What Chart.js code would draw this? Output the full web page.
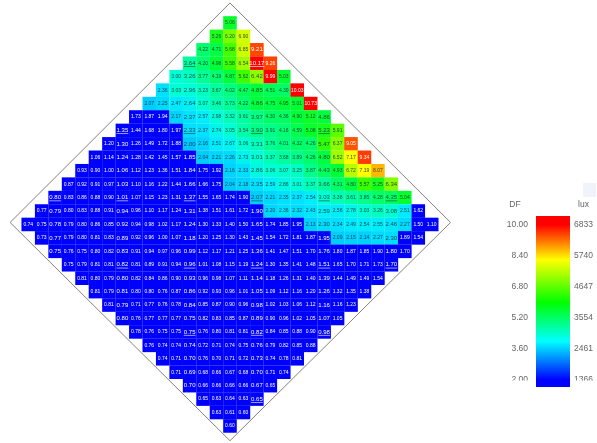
<!DOCTYPE html>
<html>
<head>
<meta charset="utf-8">
<style>
  html, body { margin: 0; background: #fff; overflow: hidden; }
  #wrap { position: relative; width: 597px; height: 443px; }
  canvas { position: absolute; filter: blur(0.6px); }
  #mapChart { left: 0; top: 0; }
  #barChart { left: 490px; top: 180px; }
</style>
</head>
<body>
<div id="wrap">
  <canvas id="mapChart" width="597" height="443"></canvas>
  <canvas id="barChart" width="107" height="263"></canvas>
</div>
<script src="https://cdn.jsdelivr.net/npm/chart.js@4/dist/chart.umd.min.js"></script>
<script>
// daylight factor per grid cell, one array per row of the diamond
const row01 = [5.06];
const row02 = [5.26, 6.20, 6.90];
const row03 = [4.22, 4.71, 5.68, 6.85, 9.21];
const row04 = [3.64, 4.20, 4.98, 5.58, 6.54, 10.17, 9.26];
const row05 = [3.00, 3.26, 3.77, 4.19, 4.87, 5.62, 6.42, 9.99, 5.03];
const row06 = [2.36, 3.03, 2.96, 3.23, 3.67, 4.02, 4.47, 4.85, 4.51, 4.30, 10.03];
const row07 = [2.07, 2.25, 2.47, 2.64, 3.07, 3.46, 3.73, 4.22, 4.86, 4.75, 4.95, 5.01, 10.73];
const row08 = [1.73, 1.87, 1.94, 2.17, 2.37, 2.57, 2.98, 3.32, 3.61, 3.97, 4.30, 4.36, 4.90, 5.12, 4.86];
const row09 = [1.35, 1.44, 1.68, 1.80, 1.97, 2.33, 2.37, 2.74, 3.05, 3.54, 3.90, 3.91, 4.16, 4.59, 5.08, 5.23, 5.91];
const row10 = [1.20, 1.30, 1.26, 1.49, 1.72, 1.88, 2.00, 2.16, 2.51, 2.67, 3.06, 3.31, 3.76, 4.01, 4.32, 4.26, 5.47, 6.37, 9.05];
const row11 = [1.06, 1.14, 1.24, 1.28, 1.42, 1.45, 1.57, 1.85, 2.04, 2.21, 2.26, 2.73, 3.01, 3.37, 3.68, 3.89, 4.26, 4.80, 6.52, 7.17, 9.34];
const row12 = [0.93, 0.90, 1.00, 1.06, 1.12, 1.23, 1.36, 1.51, 1.84, 1.75, 1.92, 2.16, 2.33, 2.86, 3.06, 3.07, 3.25, 3.87, 4.43, 4.93, 6.72, 7.19, 8.07];
const row13 = [0.87, 0.92, 0.91, 0.97, 1.03, 1.10, 1.16, 1.22, 1.44, 1.66, 1.66, 1.75, 2.04, 2.18, 2.35, 2.59, 2.86, 3.01, 3.37, 3.66, 4.31, 4.80, 5.57, 5.25, 6.34];
const row14 = [0.80, 0.83, 0.86, 0.88, 0.90, 1.01, 1.07, 1.15, 1.23, 1.31, 1.37, 1.55, 1.65, 1.74, 1.90, 2.07, 2.21, 2.35, 2.37, 2.54, 3.03, 3.38, 3.61, 3.85, 4.28, 4.35, 5.04];
const row15 = [0.77, 0.79, 0.80, 0.83, 0.88, 0.91, 0.94, 0.96, 1.10, 1.17, 1.24, 1.31, 1.38, 1.51, 1.61, 1.72, 1.90, 2.20, 2.36, 2.32, 2.43, 2.59, 2.56, 2.78, 3.03, 3.26, 3.08, 2.51, 1.62];
const row16 = [0.74, 0.75, 0.78, 0.79, 0.80, 0.86, 0.85, 0.92, 0.94, 0.98, 1.02, 1.17, 1.24, 1.30, 1.33, 1.40, 1.50, 1.65, 1.74, 1.85, 1.95, 2.13, 2.30, 2.34, 2.49, 2.54, 2.55, 2.46, 2.27, 1.50, 1.10];
const row17 = [0.73, 0.77, 0.79, 0.80, 0.81, 0.83, 0.89, 0.92, 0.96, 1.00, 1.07, 1.18, 1.20, 1.25, 1.30, 1.43, 1.45, 1.54, 1.72, 1.81, 1.87, 1.95, 2.09, 2.15, 2.14, 2.27, 2.30, 1.89, 1.54];
const row18 = [0.75, 0.76, 0.75, 0.80, 0.82, 0.83, 0.91, 0.94, 0.97, 0.96, 0.99, 1.12, 1.17, 1.21, 1.25, 1.36, 1.41, 1.47, 1.51, 1.70, 1.76, 1.80, 1.87, 1.85, 1.90, 1.80, 1.70];
const row19 = [0.75, 0.79, 0.81, 0.81, 0.82, 0.81, 0.89, 0.91, 0.94, 0.96, 1.01, 1.08, 1.15, 1.19, 1.24, 1.30, 1.35, 1.41, 1.48, 1.51, 1.65, 1.70, 1.71, 1.73, 1.70];
const row20 = [0.81, 0.80, 0.79, 0.80, 0.82, 0.84, 0.86, 0.90, 0.93, 0.96, 0.98, 1.07, 1.11, 1.14, 1.18, 1.26, 1.31, 1.40, 1.39, 1.44, 1.49, 1.49, 1.54];
const row21 = [0.81, 0.79, 0.81, 0.80, 0.80, 0.76, 0.87, 0.86, 0.92, 0.93, 0.96, 1.01, 1.05, 1.09, 1.12, 1.16, 1.20, 1.26, 1.32, 1.35, 1.38];
const row22 = [0.81, 0.79, 0.71, 0.77, 0.76, 0.78, 0.84, 0.85, 0.87, 0.90, 0.96, 0.98, 1.02, 1.03, 1.06, 1.12, 1.16, 1.16, 1.23];
const row23 = [0.80, 0.76, 0.77, 0.77, 0.77, 0.75, 0.82, 0.83, 0.85, 0.87, 0.89, 0.90, 0.96, 1.02, 1.05, 1.07, 1.05];
const row24 = [0.78, 0.76, 0.75, 0.75, 0.75, 0.76, 0.80, 0.81, 0.81, 0.82, 0.84, 0.85, 0.88, 0.90, 0.98];
const row25 = [0.76, 0.74, 0.74, 0.74, 0.72, 0.71, 0.74, 0.75, 0.76, 0.79, 0.82, 0.85, 0.88];
const row26 = [0.74, 0.71, 0.70, 0.76, 0.70, 0.71, 0.72, 0.73, 0.74, 0.78, 0.81];
const row27 = [0.71, 0.69, 0.68, 0.66, 0.67, 0.68, 0.70, 0.71, 0.74];
const row28 = [0.70, 0.66, 0.66, 0.66, 0.66, 0.67, 0.65];
const row29 = [0.65, 0.63, 0.64, 0.63, 0.65];
const row30 = [0.63, 0.61, 0.60];
const row31 = [0.60];

const dfRows = [row01, row02, row03, row04, row05, row06, row07, row08, row09, row10, row11,
  row12, row13, row14, row15, row16, row17, row18, row19, row20, row21, row22, row23, row24,
  row25, row26, row27, row28, row29, row30, row31];

const dfTicks = [10.0, 8.4, 6.8, 5.2, 3.6, 2.0];
const luxTicks = ["6833", "5740", "4647", "3554", "2461", "1366"];

// cell colours, value -> rgb
const cellStops = [
  [2, [0, 200, 255]], [2.5, [0, 235, 255]], [3, [0, 255, 215]], [3.64, [0, 255, 160]],
  [4.2, [0, 255, 110]], [5, [0, 255, 50]], [5.6, [60, 255, 0]], [6.4, [140, 255, 0]],
  [7.2, [255, 255, 0]], [8, [255, 190, 0]], [9, [255, 90, 0]], [10, [255, 0, 0]],
];

function cellColor(v) {
  if (v < 2) return "rgb(0,0,255)";
  for (let i = 1; i < cellStops.length; i++) {
    if (v <= cellStops[i][0]) {
      const [a, ca] = cellStops[i - 1];
      const [b, cb] = cellStops[i];
      const t = (v - a) / (b - a);
      return "rgb(" + ca.map((c, k) => Math.round(c + (cb[k] - c) * t)).join(",") + ")";
    }
  }
  return "rgb(255,0,0)";
}

const cells = [];
dfRows.forEach((vals, r) => {
  const half = (vals.length - 1) / 2;
  vals.forEach((v, i) => cells.push({ x: i - half, y: r + 1, v: v }));
});

const labelPlugin = {
  id: "cellLabels",
  afterDatasetsDraw(chart) {
    const ctx = chart.ctx;
    const pts = chart.getDatasetMeta(0).data;
    ctx.save();
    ctx.textAlign = "center";
    ctx.textBaseline = "middle";
    cells.forEach((c, i) => {
      const col = ((c.x % 5) + 5) % 5;
      const big = col === 2;
      const txt = c.v.toFixed(2);
      ctx.font = (big ? 6 : 5) + "px 'Liberation Sans'";
      ctx.fillStyle = c.v < 2 || c.v > 8.8 ? "#fff" : "rgba(20,40,40,0.85)";
      ctx.fillText(txt, pts[i].x, pts[i].y);
      if (big && c.y % 5 === 4) {
        const w = ctx.measureText(txt).width;
        ctx.fillRect(pts[i].x - w / 2, pts[i].y + 3, w, 0.6);
      }
    });
    ctx.restore();
  },
};

new Chart(document.getElementById("mapChart"), {
  type: "scatter",
  data: {
    datasets: [
      {
        data: cells,
        pointStyle: "rect",
        pointRadius: 9.6,
        pointBorderWidth: 0,
        pointBackgroundColor: cells.map((c) => cellColor(c.v)),
      },
      {
        // outline of the floor plan
        data: [
          { x: 0, y: -0.49 },
          { x: 16.4, y: 15.85 },
          { x: 0, y: 32.1 },
          { x: -16.35, y: 15.85 },
          { x: 0, y: -0.49 },
        ],
        showLine: true,
        pointRadius: 0,
        borderColor: "#86827a",
        borderWidth: 1,
      },
    ],
  },
  options: {
    responsive: false,
    animation: false,
    layout: { padding: 0, autoPadding: false },
    plugins: { legend: { display: false }, tooltip: { enabled: false } },
    scales: {
      x: { type: "linear", display: false, min: -17.1, max: 27.29 },
      y: { type: "linear", display: false, reverse: true, min: -0.71, max: 32.27 },
    },
  },
  plugins: [labelPlugin],
});

const barMin = 1.64;
const barMax = 10.46;

const barTextPlugin = {
  id: "barText",
  afterDraw(chart) {
    const ctx = chart.ctx;
    ctx.save();
    // the lowest labels are cut off in the picture
    ctx.fillStyle = "#fff";
    ctx.fillRect(0, 200.5, 46, 12);
    ctx.fillRect(80, 200.5, 27, 12);
    ctx.fillStyle = "#666";
    ctx.font = "8.5px 'Liberation Sans'";
    ctx.textAlign = "center";
    ctx.fillText("DF", 25, 27);
    ctx.fillText("lux", 93.5, 27);
    ctx.fillStyle = "#f0f3fb";
    ctx.fillRect(93, 3, 13, 14);
    ctx.restore();
  },
};

new Chart(document.getElementById("barChart"), {
  type: "bar",
  data: {
    labels: ["DF"],
    datasets: [
      {
        data: [[barMin, barMax]],
        barPercentage: 1,
        categoryPercentage: 1,
        borderSkipped: false,
        backgroundColor: (c) => {
          const sc = c.chart.scales.y;
          const top = sc ? sc.getPixelForValue(10) : NaN;
          const bottom = sc ? sc.getPixelForValue(2) : NaN;
          if (!isFinite(top) || !isFinite(bottom)) return "#00f";
          const g = c.chart.ctx.createLinearGradient(0, top, 0, bottom);
          g.addColorStop(0, "#ff0000");
          g.addColorStop(0.225, "#ffff00");
          g.addColorStop(0.5, "#00ff00");
          g.addColorStop(0.75, "#00ffff");
          g.addColorStop(1, "#0000ff");
          return g;
        },
      },
    ],
  },
  options: {
    responsive: false,
    animation: false,
    layout: { padding: { top: 36, bottom: 56 } },
    plugins: { legend: { display: false }, tooltip: { enabled: false } },
    scales: {
      x: { display: false },
      y: {
        position: "left",
        min: barMin,
        max: barMax,
        grid: { display: false, drawTicks: false },
        border: { display: false },
        afterFit: (s) => { s.width = 46; },
        afterBuildTicks: (s) => { s.ticks = dfTicks.map((v) => ({ value: v })); },
        ticks: {
          autoSkip: false,
          padding: 8,
          color: "#666",
          font: { family: "'Liberation Sans'", size: 8.5 },
          callback: (v) => v.toFixed(2),
        },
      },
      y1: {
        position: "right",
        min: barMin,
        max: barMax,
        grid: { display: false, drawTicks: false },
        border: { display: false },
        afterFit: (s) => { s.width = 27; },
        afterBuildTicks: (s) => { s.ticks = dfTicks.map((v) => ({ value: v })); },
        ticks: {
          autoSkip: false,
          padding: 4,
          color: "#666",
          font: { family: "'Liberation Sans'", size: 8.5 },
          callback: (v, i) => luxTicks[i],
        },
      },
    },
  },
  plugins: [barTextPlugin],
});
</script>
</body>
</html>
